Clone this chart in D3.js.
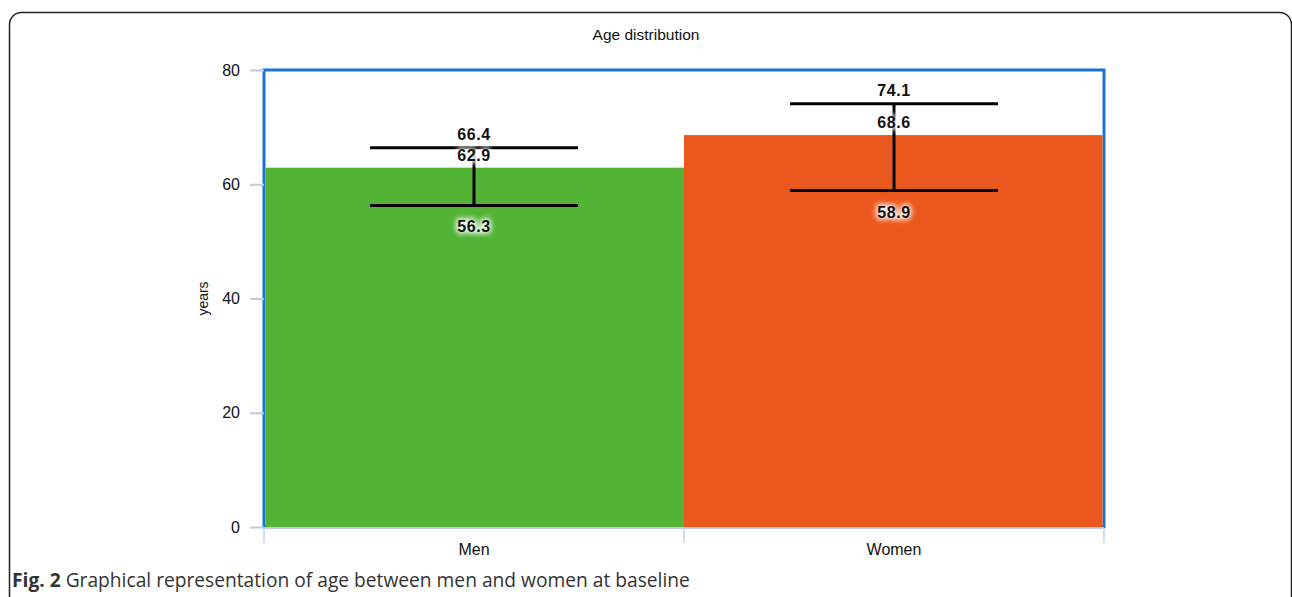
<!DOCTYPE html>
<html>
<head>
<meta charset="utf-8">
<script src="https://cdn.jsdelivr.net/npm/d3@7"></script>
<style>
  body { margin: 0; background: #fff; }
</style>
</head>
<body>
<script>
let categories = ['Men', 'Women']
let means = [62.9, 68.6]
let lower = [56.3, 58.9]
let upper = [66.4, 74.1]
let colors = ['#52b335', '#eb581d']
let yTicks = [0, 20, 40, 60, 80]

let w = 1292
let h = 597
let m = { top: 70, left: 264, right: 188, bottom: 70 }
let pw = w - m.left - m.right
let ph = h - m.top - m.bottom
let font = 'Liberation Sans, Arial, sans-serif'

let svg = d3.select('body').append('svg').attr('width', w).attr('height', h)

let defs = svg.append('defs')
defs.append('filter').attr('id', 'blur').attr('x', '-30%').attr('y', '-60%').attr('width', '160%').attr('height', '220%')
  .append('feGaussianBlur').attr('stdDeviation', 2.5)

// outer frame
svg.append('rect').attr('x', 9.5).attr('y', 12.5).attr('width', 1282).attr('height', 640)
  .attr('rx', 12).attr('fill', 'none').attr('stroke', '#222').attr('stroke-width', 1.5)

let x = d3.scaleBand().domain(categories).range([0, pw])
let y = d3.scaleLinear().domain([0, 80]).range([ph, 0])

svg.append('text').attr('x', w / 2).attr('y', 40).attr('text-anchor', 'middle')
  .style('font-family', font).style('font-size', '15.5px').attr('fill', '#111')
  .text('Age distribution')

let g = svg.append('g').attr('transform', 'translate(' + m.left + ',' + m.top + ')')

// plot border
g.append('rect').attr('x', 0).attr('y', 0).attr('width', pw).attr('height', ph)
  .attr('fill', '#fff').attr('stroke', '#1a73d0').attr('stroke-width', 3)

g.selectAll('rect.bar').data(categories).enter().append('rect').attr('class', 'bar')
  .attr('x', d => x(d) + (d === categories[0] ? 1.5 : 0))
  .attr('width', x.bandwidth() - 1.5)
  .attr('y', (d, i) => y(means[i]))
  .attr('height', (d, i) => ph - y(means[i]))
  .attr('fill', (d, i) => colors[i])

// y axis
let ya = g.append('g').call(d3.axisLeft(y).tickValues(yTicks).tickSize(14).tickPadding(10))
ya.select('.domain').remove()
ya.selectAll('line').attr('stroke', '#b8cde3').attr('stroke-width', 2)
ya.selectAll('text').style('font-family', font).style('font-size', '16px').attr('fill', '#111')

// x axis
let xa = g.append('g').attr('transform', 'translate(0,' + (ph + 1) + ')')
xa.append('line').attr('x1', 0).attr('x2', pw).attr('stroke', '#b8cde3').attr('stroke-width', 2)
let edges = [0].concat(categories.map(c => x(c) + x.bandwidth()))
xa.selectAll('line.tk').data(edges).enter().append('line').attr('class', 'tk')
  .attr('x1', d => d).attr('x2', d => d).attr('y1', 0).attr('y2', 15)
  .attr('stroke', '#d2deeb').attr('stroke-width', 2)
xa.selectAll('text').data(categories).enter().append('text')
  .attr('x', d => x(d) + x.bandwidth() / 2).attr('y', 27)
  .attr('text-anchor', 'middle')
  .style('font-family', font).style('font-size', '16px').attr('fill', '#111')
  .text(d => d)

// y label
g.append('text').attr('transform', 'translate(-56,' + (ph / 2) + ') rotate(-90)')
  .attr('text-anchor', 'middle')
  .style('font-family', font).style('font-size', '14px').attr('fill', '#111')
  .text('years')

// error bars
let eb = g.selectAll('g.eb').data(categories).enter().append('g').attr('class', 'eb')
let cx = d => x(d) + x.bandwidth() / 2
let cap = 104
eb.append('line').attr('x1', cx).attr('x2', cx)
  .attr('y1', (d, i) => y(upper[i])).attr('y2', (d, i) => y(lower[i]))
  .attr('stroke', '#000').attr('stroke-width', 3)
eb.append('line').attr('x1', d => cx(d) - cap).attr('x2', d => cx(d) + cap)
  .attr('y1', (d, i) => y(upper[i])).attr('y2', (d, i) => y(upper[i]))
  .attr('stroke', '#000').attr('stroke-width', 3)
eb.append('line').attr('x1', d => cx(d) - cap).attr('x2', d => cx(d) + cap)
  .attr('y1', (d, i) => y(lower[i])).attr('y2', (d, i) => y(lower[i]))
  .attr('stroke', '#000').attr('stroke-width', 3)

function lab(vals, dy) {
  let t = eb.append('g')
  let style = s => s.attr('x', cx).attr('y', (d, i) => y(vals[i]) + dy)
    .attr('text-anchor', 'middle')
    .style('font-family', font).style('font-weight', '700').style('font-size', '16px').style('letter-spacing', '0.6px')
    .text((d, i) => vals[i].toFixed(1))
  // white halo behind the label
  t.append('text').call(style).attr('fill', '#fff').attr('stroke', '#fff').attr('stroke-width', 4)
    .attr('filter', 'url(#blur)').attr('opacity', 0.9)
  t.append('text').call(style).attr('fill', '#111')
}
lab(upper, -8)
lab(means, -7)
lab(lower, 27)

// caption
let cap2 = svg.append('text').attr('x', 12).attr('y', 587)
  .style('font-family', 'Open Sans, Noto Sans, sans-serif').style('font-size', '19.2px').attr('fill', '#333')
cap2.append('tspan').style('font-weight', 'bold').text('Fig. 2')
cap2.append('tspan').text(' Graphical representation of age between men and women at baseline')
</script>
</body>
</html>
